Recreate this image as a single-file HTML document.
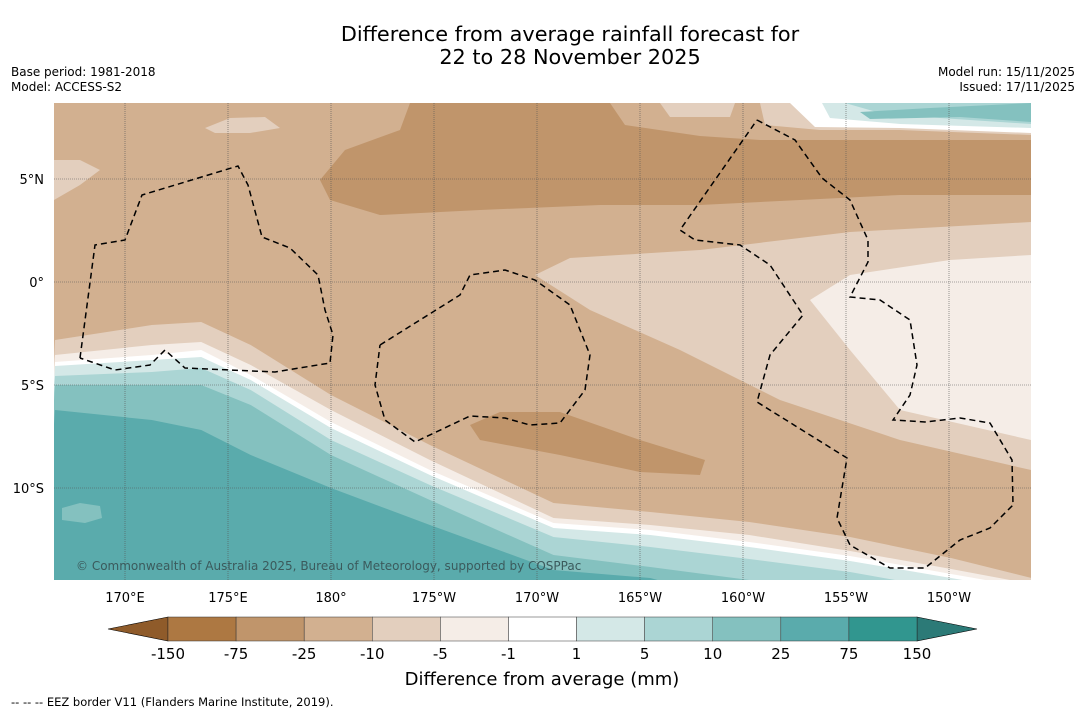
<!DOCTYPE html>
<html><head><meta charset="utf-8"><style>
body{margin:0;background:#fff;width:1085px;height:713px;overflow:hidden;font-family:"DejaVu Sans","Liberation Sans",sans-serif}
svg{display:block}
</style></head><body>
<svg id="s" width="1085" height="713" font-family="DejaVu Sans, Liberation Sans, sans-serif">
<text x="570" y="41" text-anchor="middle" font-size="20.8">Difference from average rainfall forecast for</text>
<text x="570" y="64" text-anchor="middle" font-size="20.8">22 to 28 November 2025</text>
<text x="11" y="76" font-size="12">Base period: 1981-2018</text>
<text x="11" y="91" font-size="12">Model: ACCESS-S2</text>
<text x="1075" y="76" font-size="12" text-anchor="end">Model run: 15/11/2025</text>
<text x="1075" y="91" font-size="12" text-anchor="end">Issued: 17/11/2025</text>
<defs><clipPath id="mc"><rect x="54" y="103" width="977" height="477"/></clipPath></defs>
<g id="map" clip-path="url(#mc)">
<rect x="54" y="103" width="977" height="477" fill="#d2b090"/>
<path d="M54,160 L80,160 100,170 80,185 54,200Z" fill="#e3cfbe"/>
<path d="M205,128 L230,118 265,117 280,128 250,133 215,133Z" fill="#e3cfbe"/>
<path d="M410,103 L610,103 625,125 700,136 760,140 1031,140 1031,195 900,195 800,200 700,205 600,205 480,210 380,215 330,200 320,180 345,150 400,130Z" fill="#c0956b"/>
<path d="M660,103 L735,103 730,117 670,117Z" fill="#e3cfbe"/>
<path d="M760,103 L1031,103 1031,135 900,130 820,130 765,125Z" fill="#e3cfbe"/>
<path d="M790,103 L1031,103 1031,133 900,128 815,127Z" fill="#ffffff"/>
<path d="M822,103 L1031,103 1031,128 900,124 830,118Z" fill="#d4e8e7"/>
<path d="M845,103 L1031,103 1031,124 940,118 880,113Z" fill="#abd5d4"/>
<path d="M860,112 L930,108 1031,103 1031,122 960,117 870,119Z" fill="#84c1bf"/>
<path d="M535,275 L570,258 700,250 850,232 1031,222 1031,470 900,440 780,400 680,350 590,310Z" fill="#e3cfbe"/>
<path d="M810,300 L850,275 950,260 1031,255 1031,440 900,410 850,350Z" fill="#f5ede7"/>
<path d="M470,425 L500,412 560,412 640,440 705,460 700,475 640,472 560,455 480,440Z" fill="#c0956b"/>
<g id="bands"></g>
<path d="M62,508 L80,503 100,506 102,518 85,523 62,520Z" fill="#84c1bf"/>
<g id="grid" stroke="#555" stroke-width="0.6" stroke-dasharray="1,1" fill="none"></g>
<g fill="none" stroke="#000" stroke-width="1.5" stroke-dasharray="6,4">
<path d="M80,358 L95,245 125,240 142,195 238,166 248,185 262,237 290,248 318,275 325,310 333,335 330,363 275,372 185,368 165,350 150,365 115,370 80,358"/>
<path d="M380,345 L460,295 470,275 505,270 535,280 570,305 590,355 585,390 560,423 530,425 505,418 470,416 415,442 385,420 375,385 380,345"/>
<path d="M757,120 L795,140 822,178 850,200 868,240 868,262 850,297 880,300 910,320 917,365 910,395 893,420 925,422 960,418 990,423 1012,460 1013,505 990,528 960,540 925,568 890,568 850,545 837,518 847,458 757,402 770,355 803,315 770,265 740,245 695,240 680,230 757,120"/>
</g>
<text x="76" y="570" font-size="12" fill="#3b5a5c">© Commonwealth of Australia 2025, Bureau of Meteorology, supported by COSPPac</text>
</g>
<g id="axes"></g>
<g id="cbar"></g>
<text x="542" y="685" text-anchor="middle" font-size="18">Difference from average (mm)</text>
<text x="11" y="706" font-size="11.5">--  --  -- EEZ border V11 (Flanders Marine Institute, 2019).</text>
</svg>
<script>
const NS='http://www.w3.org/2000/svg';
const levels=[-150,-75,-25,-10,-5,-1,1,5,10,25,75,150];
const colors=['#ad7842','#c0956b','#d2b090','#e3cfbe','#f5ede7','#ffffff','#d4e8e7','#abd5d4','#84c1bf','#5aabac','#31968f'];
const lonTicks=[170,175,180,185,190,195,200,205,210];
const lonLabels=['170°E','175°E','180°','175°W','170°W','165°W','160°W','155°W','150°W'];
const latTicks=[5,0,-5,-10];
const latLabels=['5°N','0°','5°S','10°S'];
const bandLons=[166.6,171.3,173.7,176.1,180,184.8,190.8,195.5,200.3,205.2,210.1,214];
const bandTop=[
 [340,325,322,345,395,445,503,512,522,537,558,578],
 [355,345,342,365,410,460,518,525,535,551,569,584],
 [362,355,350,375,422,470,523,530,542,556,574,588],
 [366,360,357,380,428,475,528,535,547,561,578,592],
 [376,372,368,390,440,485,537,547,559,572,590,600],
 [385,385,385,405,455,500,555,567,580,595,605,610],
 [410,420,430,455,488,525,570,578,605,610,610,610]];
const bandColors=['#e3cfbe','#f5ede7','#ffffff','#d4e8e7','#abd5d4','#84c1bf','#5aabac'];
const X=l=>331+(l-180)*20.6, Y=la=>282-la*20.6;
const s=document.getElementById('s');
function el(t,a,p){const e=document.createElementNS(NS,t);for(const k in a)e.setAttribute(k,a[k]);p.appendChild(e);return e;}
const bands=document.getElementById('bands');
bandTop.forEach((row,i)=>{
 let d='M'+row.map((y,j)=>X(bandLons[j]).toFixed(1)+','+y).join(' L')+' L1040,620 L40,620Z';
 const p=el('path',{d:d,fill:bandColors[i]},bands);
 
 
});
const grid=document.getElementById('grid'), axes=document.getElementById('axes');
lonTicks.forEach((l,i)=>{
 const g=el('line',{x1:X(l),x2:X(l),y1:103,y2:580},grid);
 
 
 const t=el('text',{x:X(l),y:602,'font-size':13,'text-anchor':'middle'},axes);t.textContent=lonLabels[i];
 
 
});
latTicks.forEach((la,i)=>{
 const g=el('line',{x1:54,x2:1031,y1:Y(la),y2:Y(la)},grid);
 
 
 const t=el('text',{x:44,y:Y(la)+5,'font-size':13,'text-anchor':'end'},axes);t.textContent=latLabels[i];
 
 
});
const cb=document.getElementById('cbar');
const x0=168,x1=917,w=(x1-x0)/colors.length;
const lt=el('path',{d:`M${x0},617 L108,629 L${x0},641Z`,fill:'#8f5b2a',stroke:'#000','stroke-width':0.6},cb);


const rt=el('path',{d:`M${x1},617 L977,629 L${x1},641Z`,fill:'#2c7a77',stroke:'#000','stroke-width':0.6},cb);


colors.forEach((c,i)=>{
 const r=el('rect',{x:x0+i*w,y:617,width:w,height:24,fill:c,stroke:'#333','stroke-width':0.5},cb);
 
 
});
levels.forEach((v,i)=>{
 const t=el('text',{x:x0+i*w,y:659,'font-size':15,'text-anchor':'middle'},cb);t.textContent=v;
 
 
});
</script>
</body></html>
